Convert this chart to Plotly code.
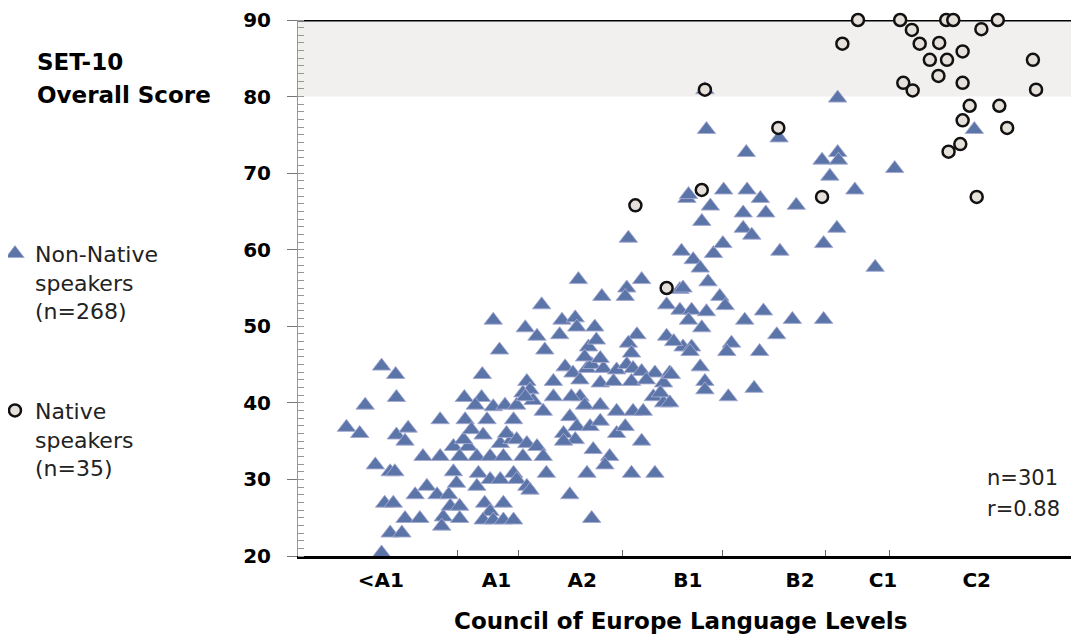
import plotly.graph_objects as go

# ---- data (x: position on the CEFR scale, 0-100; y: SET-10 overall score) ----
level_labels = ["<A1", "A1", "A2", "B1", "B2", "C1", "C2"]
level_label_pos = [10.6, 25.4, 36.4, 49.9, 64.3, 74.9, 86.9]
level_boundaries = [20.4, 28.2, 41.5, 54.4, 67.5, 75.7]
score_ticks = [20, 30, 40, 50, 60, 70, 80, 90]

nonnative_level = [
    10.7, 12.5, 8.6, 12.6, 6.2, 7.9, 12.6, 14.1, 13.7, 9.9, 11.8, 12.4, 11.1, 12.2, 11.8, 13.3,
    10.7, 13.7, 15.6, 15.0, 16.5, 17.8, 19.3, 18.6, 18.4, 20.7, 16.0, 18.2, 18.2, 19.9, 19.5, 20.7,
    20.3, 19.9, 21.8, 21.2, 20.7, 21.3, 21.4,
    23.5, 22.7, 23.6, 25.0, 26.5, 28.0, 24.2, 27.6, 22.2, 23.7, 25.9, 27.4, 22.9, 24.6, 26.3, 23.1,
    22.9, 24.6, 25.9, 27.6, 28.0, 29.3, 23.9, 24.6, 26.3, 23.7, 25.0, 26.3, 27.6, 25.8, 25.0, 29.1,
    30.6, 31.6, 31.2, 33.8, 35.5, 35.7, 33.5, 29.3, 29.7, 32.7, 28.8, 30.1, 29.1, 32.7, 31.4, 26.7,
    28.0, 29.3, 30.6, 31.4, 28.8, 31.8, 29.7,
    34.2, 35.2, 37.0, 37.6, 39.1, 40.8, 42.1, 42.9, 44.0, 45.7, 47.6, 36.1, 38.7, 40.4, 42.7, 44.6,
    46.8, 36.1, 36.7, 38.7, 40.8, 42.9, 44.2, 45.5, 46.8, 34.8, 34.0, 35.7, 37.4, 38.7, 35.5, 40.8,
    41.9, 44.0, 37.8, 39.9, 39.3, 37.0, 42.7, 45.7, 34.8, 37.6, 37.2, 38.2, 36.7, 38.7, 38.0, 43.4,
    42.3, 42.7, 47.2, 49.3, 50.4, 46.4, 35.0, 34.0,
    42.3, 35.9, 44.0, 42.1, 41.9, 38.9, 48.9, 47.2, 48.9, 50.4, 52.3, 50.0, 49.1, 50.6, 51.5, 49.8,
    52.8, 54.5, 57.5, 59.2, 59.9, 57.0, 63.8, 71.3, 51.7, 57.0, 58.1, 69.0, 67.3, 61.7, 73.9, 53.2,
    54.4, 52.5, 54.0, 54.7, 57.2, 59.6, 63.3, 67.3, 51.7, 61.3, 50.2, 48.1, 55.5, 54.9, 59.1, 51.5,
    52.1, 52.1, 55.1, 58.4, 47.8, 47.6, 69.1, 52.3, 61.6, 57.4, 67.1, 69.1, 69.2, 68.1, 76.4, 86.6,
    50.0, 52.1, 49.3,
]
nonnative_score = [
    44.8, 43.7, 39.7, 40.7, 36.8, 36.0, 35.8, 36.7, 35.0, 31.9, 31.0, 31.0, 26.9, 26.9, 23.0, 23.0,
    20.4, 24.9, 24.9, 28.0, 29.1, 28.0, 28.0, 25.1, 23.9, 24.9, 33.0, 33.0, 37.8, 31.0, 26.5, 26.5,
    29.5, 34.3, 34.3, 35.2, 33.0, 40.7, 37.8,
    40.7, 39.7, 43.7, 39.5, 39.7, 39.7, 37.8, 37.8, 36.5, 35.8, 34.7, 35.2, 33.0, 33.0, 33.0, 30.8,
    29.1, 30.0, 30.0, 30.8, 30.0, 29.1, 26.9, 25.8, 26.9, 24.7, 24.7, 24.7, 24.7, 46.9, 50.8, 49.8,
    48.7, 46.9, 52.8, 50.8, 51.1, 49.9, 48.9, 42.8, 41.7, 42.8, 41.3, 40.3, 40.8, 40.8, 38.9, 36.0,
    35.2, 34.7, 34.3, 33.0, 33.0, 30.8, 28.6,
    44.7, 43.9, 44.5, 45.0, 44.5, 44.3, 45.0, 44.5, 44.1, 43.9, 43.9, 43.0, 42.6, 42.8, 42.8, 43.0,
    42.6, 40.8, 39.7, 39.7, 38.9, 38.9, 38.9, 40.8, 40.0, 38.2, 36.0, 36.9, 36.9, 37.6, 35.2, 36.0,
    36.9, 35.0, 33.9, 33.0, 31.9, 30.8, 30.8, 30.8, 28.0, 24.9, 47.3, 48.2, 46.0, 45.8, 49.9, 48.9,
    47.8, 46.5, 48.7, 47.3, 47.3, 41.3, 40.8, 35.0,
    61.5, 56.1, 56.1, 55.0, 53.9, 53.9, 54.8, 52.8, 52.1, 52.1, 51.9, 50.8, 59.8, 58.7, 57.6, 66.7,
    65.7, 67.8, 67.8, 66.7, 64.8, 64.8, 65.8, 67.8, 63.7, 62.8, 61.9, 62.8, 60.8, 59.8, 57.7, 59.5,
    60.8, 55.8, 53.9, 52.7, 50.8, 52.0, 50.9, 50.9, 49.8, 48.9, 46.7, 48.0, 47.8, 46.7, 46.7, 44.7,
    42.8, 41.7, 40.8, 41.9, 43.7, 40.0, 79.8, 75.7, 74.6, 72.7, 71.7, 72.7, 71.7, 69.6, 70.6, 75.7,
    67.2, 80.9, 55.0,
]

native_level = [
    71.7, 77.1, 78.6, 83.0, 83.9, 87.5, 89.6, 69.7, 79.6, 82.1, 85.1, 80.9, 83.1, 82.0, 77.5, 78.7,
    85.1, 94.1, 94.5, 86.0, 89.8, 85.1, 90.8, 84.8, 83.3, 86.9, 67.1, 52.1, 61.5, 51.7, 43.2, 47.2,
]
native_score = [
    90.0, 90.0, 88.7, 90.0, 90.0, 88.8, 90.0, 86.9, 86.9, 87.0, 85.9, 84.8, 84.8, 82.7, 81.8, 80.8,
    81.8, 84.8, 80.9, 78.8, 78.8, 76.9, 75.9, 73.8, 72.8, 66.9, 66.9, 80.9, 75.9, 67.8, 65.8, 55.0,
]

FONT = "DejaVu Sans"

fig = go.Figure()

fig.add_trace(go.Scatter(
    x=nonnative_level, y=nonnative_score, mode="markers",
    name="Non-Native<br>speakers<br>(n=268)", legendgroup="a",
    marker=dict(symbol="triangle-up", size=16, color="#5b75a8",
                line=dict(color="rgba(165,170,210,0.9)", width=1)),
    cliponaxis=False,
))
fig.add_trace(go.Scatter(
    x=native_level, y=native_score, mode="markers",
    name="Native<br>speakers<br>(n=35)", legendgroup="b",
    marker=dict(symbol="circle", size=12, color="#e6e0da",
                line=dict(color="#111111", width=2.5)),
    cliponaxis=False,
))

# shaded band 80-90 and top rule
fig.add_shape(type="rect", xref="paper", x0=0, x1=1, yref="y", y0=80, y1=90,
              fillcolor="rgb(242,240,238)", line=dict(width=0), layer="below")
fig.add_shape(type="line", xref="paper", x0=0, x1=1, yref="y", y0=90, y1=90,
              line=dict(color="black", width=3), layer="below")

fig.update_xaxes(
    range=[0, 100], tickmode="array", tickvals=level_label_pos, ticktext=level_labels,
    ticks="", showgrid=False, zeroline=False,
    showline=True, linecolor="black", linewidth=3,
    tickfont=dict(family=FONT, size=20, color="black", weight="bold"),
    ticklabelstandoff=4,
    minor=dict(tickmode="array", tickvals=level_boundaries, ticks="inside",
               ticklen=6, tickcolor="#666666", tickwidth=1, showgrid=False),
)
fig.update_yaxes(
    range=[20, 90], tickmode="array", tickvals=score_ticks,
    ticks="outside", ticklen=10, tickcolor="#777777", tickwidth=1,
    showgrid=False, zeroline=False,
    showline=True, linecolor="#9a9690", linewidth=1,
    tickfont=dict(family=FONT, size=20, color="black", weight="bold"),
    ticklabelstandoff=12,
    minor=dict(dtick=1, ticks="inside", ticklen=6, tickcolor="#9a9690", tickwidth=1, showgrid=False),
)

ann = []
ann.append(dict(text="SET-10", x=-0.3367, y=0.9216, xanchor="left", yanchor="middle"))
ann.append(dict(text="Overall Score", x=-0.3367, y=0.860, xanchor="left", yanchor="middle"))
for a in ann:
    a.update(xref="paper", yref="paper", showarrow=False,
             font=dict(family=FONT, size=23, color="black", weight="bold"))
ann.append(dict(text="Council of Europe Language Levels", x=0.490, y=-0.121, xref="paper", yref="paper",
                xanchor="center", yanchor="middle", showarrow=False,
                font=dict(family=FONT, size=23, color="black", weight="bold")))
ann.append(dict(text="n=301", x=0.8796, y=0.1455, xref="paper", yref="paper", xanchor="left",
                yanchor="middle", showarrow=False, font=dict(family=FONT, size=21, color="#222222")))
ann.append(dict(text="r=0.88", x=0.8796, y=0.0877, xref="paper", yref="paper", xanchor="left",
                yanchor="middle", showarrow=False, font=dict(family=FONT, size=21, color="#222222")))

# the page body has an 8px margin, so the figure is 8px smaller and margins compensate
fig.update_layout(
    width=1071, height=627,
    margin=dict(l=290, r=0, t=12, b=79, autoexpand=False),
    plot_bgcolor="white", paper_bgcolor="white",
    annotations=ann,
    showlegend=True,
    legend=dict(x=-0.388, xanchor="left", y=0.603, yanchor="top", valign="top",
                tracegroupgap=68, bgcolor="rgba(0,0,0,0)",
                font=dict(family=FONT, size=22, color="#222222")),
    hovermode=False,
)

fig.write_html("out.html", config={"displayModeBar": False})
